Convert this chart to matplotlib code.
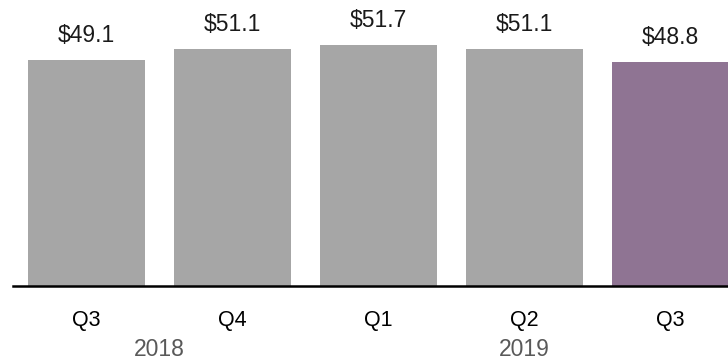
import matplotlib.pyplot as plt
import numpy as np

# quarterly values ($)
quarters = ['Q3', 'Q4', 'Q1', 'Q2', 'Q3']
years = ['2018', '2018', '2019', '2019', '2019']
values = [49.1, 51.1, 51.7, 51.1, 48.8]
colors = ['#A6A6A6', '#A6A6A6', '#A6A6A6', '#A6A6A6', '#8F7493']

plt.rcParams['font.family'] = ['Liberation Sans', 'DejaVu Sans']

fig = plt.figure(figsize=(7.28, 3.6), dpi=100)
ax = fig.add_axes([13 / 728, 1 - 286 / 360, 1 - 13 / 728, 286 / 360])

x = np.arange(len(values))
ax.bar(x, values, width=0.8, color=colors)

ax.set_xlim(-0.503, 4.394)
ax.set_ylim(10.5, 59.4)

# value labels above bars
for xi, v in zip(x, values):
    ax.annotate(f'${v:.1f}', xy=(xi, v), xytext=(0, 17.5), textcoords='offset points',
                ha='center', va='center', fontsize=16.5, color='#1a1a1a',
                annotation_clip=False)

# quarter labels
for xi, q in zip(x, quarters):
    ax.annotate(q, xy=(xi, 0), xycoords=('data', 'axes fraction'),
                xytext=(0, -24.5), textcoords='offset points',
                ha='center', va='center', fontsize=15.5, color='black',
                annotation_clip=False)

# year labels, centred under their quarters
for yr in dict.fromkeys(years):
    idx = [i for i, y in enumerate(years) if y == yr]
    ax.annotate(yr, xy=(np.mean(idx), 0), xycoords=('data', 'axes fraction'),
                xytext=(0, -46), textcoords='offset points',
                ha='center', va='center', fontsize=16.5, color='#595959',
                annotation_clip=False)

for s in ['top', 'left', 'right']:
    ax.spines[s].set_visible(False)
ax.spines['bottom'].set_linewidth(1.8)
ax.spines['bottom'].set_color('black')
ax.set_xticks([])
ax.set_yticks([])

fig.savefig('out.png', dpi=100)
